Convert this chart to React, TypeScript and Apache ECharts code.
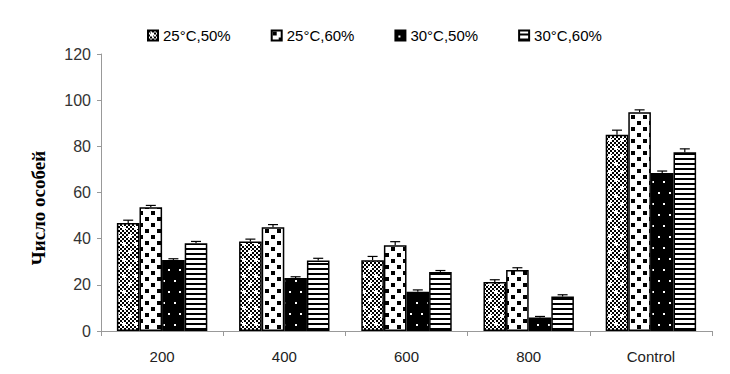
import React, { useEffect, useRef } from "react";
import * as echarts from "echarts";

const categories = ["200", "400", "600", "800", "Control"];
const seriesNames = ["25°C,50%", "25°C,60%", "30°C,50%", "30°C,60%"];
const s1 = [46.8, 38.8, 30.7, 21.2, 85.0];
const s2 = [53.6, 44.9, 37.2, 26.4, 94.8];
const s3 = [30.8, 23.0, 17.0, 5.8, 68.5];
const s4 = [38.0, 30.5, 25.6, 14.9, 77.4];
const e1 = [1.2, 1.0, 1.6, 1.0, 2.0];
const e2 = [0.8, 1.2, 1.5, 1.0, 1.0];
const e3 = [0.5, 0.5, 0.8, 0.5, 0.8];
const e4 = [0.8, 1.0, 0.6, 0.8, 1.5];
const yTicks = [0, 20, 40, 60, 80, 100, 120];

const seriesValues = [s1, s2, s3, s4];
const seriesErrors = [e1, e2, e3, e4];

function makeCanvas(w: number, h: number, draw: (c: CanvasRenderingContext2D) => void) {
  const cv = document.createElement("canvas");
  cv.width = w;
  cv.height = h;
  const ctx = cv.getContext("2d")!;
  draw(ctx);
  return cv;
}

function patterns() {
  const p1 = makeCanvas(12, 16, (c) => {
    c.fillStyle = "#fff";
    c.fillRect(0, 0, 12, 16);
    c.fillStyle = "#000";
    for (let y = 0; y < 16; y += 2)
      for (let x = 0; x < 12; x += 2)
        if (((x + y) / 2) % 2 === 0) c.fillRect(x, y, 2, 2);
    c.fillStyle = "#fff";
    c.fillRect(2, 3, 4, 2);
    c.fillRect(3, 2, 2, 4);
    c.fillRect(8, 11, 4, 2);
    c.fillRect(9, 10, 2, 4);
  });
  const p2 = makeCanvas(12, 12, (c) => {
    c.fillStyle = "#fff";
    c.fillRect(0, 0, 12, 12);
    c.fillStyle = "#000";
    c.fillRect(1, 1, 4, 4);
    c.fillRect(7, 7, 4, 4);
  });
  const p3 = makeCanvas(11, 22, (c) => {
    c.fillStyle = "#000";
    c.fillRect(0, 0, 11, 22);
    c.fillStyle = "#fff";
    c.fillRect(3, 5, 2, 2);
    c.fillRect(9, 16, 2, 2);
  });
  const p4 = makeCanvas(4, 5, (c) => {
    c.fillStyle = "#fff";
    c.fillRect(0, 0, 4, 5);
    c.fillStyle = "#000";
    c.fillRect(0, 3, 4, 2);
  });
  return [p1, p2, p3, p4];
}

const CAT_GAP = 0.26;

export default function App() {
  const ref = useRef<HTMLDivElement>(null);
  useEffect(() => {
    const chart = echarts.init(ref.current!, undefined, { renderer: "svg" });
    const pats = patterns();
    const bars: any[] = seriesNames.map((name, i) => ({
      name,
      type: "bar",
      data: seriesValues[i],
      barGap: "0%",
      barCategoryGap: CAT_GAP * 100 + "%",
      itemStyle: {
        color: { image: pats[i], repeat: "repeat" },
        borderColor: "#000",
        borderWidth: 1.5,
      },
    }));
    const errs: any[] = seriesNames.map((name, i) => ({
      name: name + "_err",
      type: "custom",
      silent: true,
      z: 5,
      data: seriesValues[i].map((v, j) => [j, v, seriesErrors[i][j]]),
      renderItem: (params: any, api: any) => {
        const j = api.value(0);
        const v = api.value(1);
        const e = api.value(2);
        const band = api.size([1, 0])[0];
        const bw = (band * (1 - CAT_GAP)) / 4;
        const base = api.coord([j, v]);
        const top = api.coord([j, v + e]);
        const x = base[0] + (i - 1.5) * bw;
        const cap = 5;
        return {
          type: "group",
          children: [
            { type: "line", shape: { x1: x, y1: base[1], x2: x, y2: top[1] }, style: { stroke: "#000", lineWidth: 1.2 } },
            { type: "line", shape: { x1: x - cap, y1: top[1], x2: x + cap, y2: top[1] }, style: { stroke: "#000", lineWidth: 1.2 } },
          ],
        };
      },
    }));
    chart.setOption({
      animation: false,
      grid: { left: 101, right: 18, top: 54, bottom: 43 },
      legend: {
        data: seriesNames,
        left: 142,
        top: 23,
        itemWidth: 10,
        itemHeight: 10,
        itemGap: 40,
        icon: "rect",
        textStyle: { fontFamily: "Liberation Sans, Arial", fontSize: 15, color: "#000" },
      },
      xAxis: {
        type: "category",
        data: categories,
        axisLine: { lineStyle: { color: "#999", width: 1 } },
        axisTick: { show: true, length: 5, lineStyle: { color: "#999" } },
        axisLabel: { fontFamily: "Liberation Sans, Arial", fontSize: 15, color: "#222", margin: 18 },
      },
      yAxis: {
        type: "value",
        min: 0,
        max: 120,
        interval: 20,
        axisLine: { show: true, lineStyle: { color: "#999", width: 1 } },
        axisTick: { show: true, length: 4, lineStyle: { color: "#999" } },
        splitLine: { show: false },
        axisLabel: {
          fontFamily: "Liberation Sans, Arial",
          fontSize: 16,
          color: "#333",
          margin: 10,
          formatter: (v: number) => (yTicks.includes(v) ? String(v) : ""),
        },
      },
      graphic: [
        {
          type: "text",
          x: 38,
          y: 208,
          rotation: Math.PI / 2,
          style: {
            text: "Число особей",
            font: "bold 19px 'Liberation Serif', 'DejaVu Serif', serif",
            fill: "#000",
            textAlign: "center",
            textVerticalAlign: "middle",
          },
        },
      ],
      series: [...bars, ...errs],
    });
    return () => chart.dispose();
  }, []);
  return <div ref={ref} style={{ width: 730, height: 374, margin: -8 }} />;
}
